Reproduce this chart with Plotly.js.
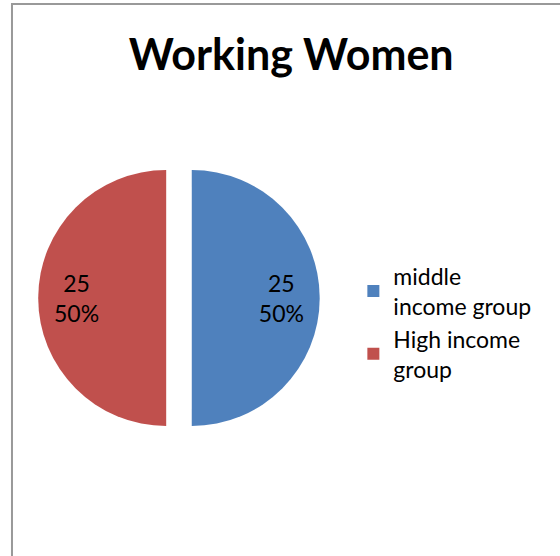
<!DOCTYPE html>
<html><head><meta charset="utf-8">
<script src="https://cdn.plot.ly/plotly-3.0.1.min.js"></script>
<style>html,body{margin:0;padding:0;background:#fff}</style>
</head><body>
<div id="chart" style="width:560px;height:556px"></div>
<script>
var categories = ["middle<br>income group", "High income<br>group"];
var values = [25, 25];
var colors = ["#4F81BD", "#C0504D"];
var chartTitle = "Working Women";

var FONT = "Lato, 'Liberation Sans', sans-serif";
var pieDomain = {x: [0.0682, 0.571], y: [0.2108, 0.7172]};

// Filled pie (slices + legend)
var pie = {
  type: "pie",
  labels: categories,
  values: values,
  sort: false,
  direction: "clockwise",
  rotation: 0,
  pull: [0.1, 0.1],
  marker: {colors: colors, line: {width: 0}},
  textinfo: "none",
  hoverinfo: "none",
  domain: pieDomain
};

// Transparent ring carrying the data labels further out, as in the reference
var labelsRing = {
  type: "pie",
  labels: categories,
  values: values,
  sort: false,
  direction: "clockwise",
  rotation: 0,
  pull: [0.1, 0.1],
  hole: 0.4,
  marker: {colors: ["rgba(0,0,0,0)", "rgba(0,0,0,0)"], line: {width: 0}},
  texttemplate: "%{value}<br>%{percent:.0%}",
  textposition: "inside",
  insidetextorientation: "horizontal",
  textfont: {family: FONT, size: 23, color: "#000"},
  hoverinfo: "none",
  showlegend: false,
  domain: pieDomain
};

var layout = {
  width: 560, height: 556,
  margin: {l: 0, r: 0, t: 0, b: 0},
  paper_bgcolor: "#fff",
  title: {text: "<b>" + chartTitle + "</b>", x: 0.52, xanchor: "center", y: 0.901, yanchor: "middle",
          font: {family: FONT, size: 43, color: "#000"}},
  showlegend: true,
  legend: {x: 0.631, xanchor: "left", y: 0.42, yanchor: "middle",
           font: {family: FONT, size: 23, color: "#000"},
           itemwidth: 30},
  shapes: [{type: "rect", xref: "paper", yref: "paper", x0: 0.0214, x1: 1.05, y0: -0.05, y1: 0.9928,
            line: {color: "#999", width: 2}, fillcolor: "rgba(0,0,0,0)"}]
};

Plotly.newPlot("chart", [pie, labelsRing], layout, {displayModeBar: false, staticPlot: true});
</script>
</body></html>
